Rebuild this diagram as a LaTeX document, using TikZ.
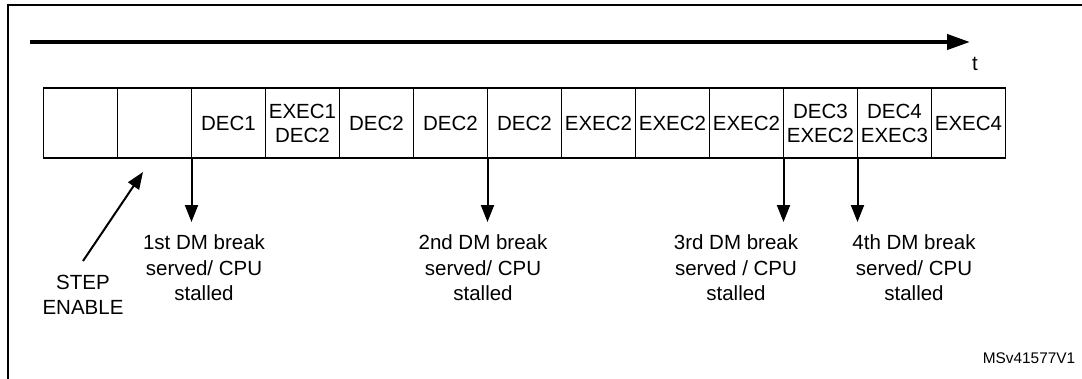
\documentclass[tikz,border=0pt]{standalone}
\usepackage{fontspec}
\setmainfont{Liberation Sans}
\usetikzlibrary{arrows.meta}
\begin{document}
\begin{tikzpicture}[x=1pt,y=-1pt,
  cell/.style={draw,line width=1.2pt,minimum width=74pt,minimum height=70pt,inner sep=0pt,outer sep=0pt,align=center,font=\fontsize{20.5}{24}\selectfont},
  lbl/.style={align=center,inner sep=0pt,font=\fontsize{20.5}{25.5}\selectfont},
  brk/.style={line width=2pt,-{Triangle[length=17pt,width=13pt]}},
  frame/.style={line width=2pt}]
\useasboundingbox (0,0) rectangle (1082,378);
% frame
\coordinate (fb) at (8,380);
\coordinate (fc) at (8,5);
\coordinate (fr) at (1084,5);
\draw[frame] (fb) -- (fc) -- (fr);
% time axis
\coordinate (t0) at (30,42);
\coordinate (t1) at (970,42);
\draw[line width=4pt,-{Triangle[length=23pt,width=15pt]}] (t0) -- (t1);
\node[lbl] (t) at (975,64) {t};
% cells
\node[cell] (c1) at (80.5,123) {};
\node[cell] (c2) at (154.5,123) {};
\node[cell] (c3) at (228.5,123) {DEC1};
\node[cell] (c4) at (302.5,123) {EXEC1\\DEC2};
\node[cell] (c5) at (376.5,123) {DEC2};
\node[cell] (c6) at (450.5,123) {DEC2};
\node[cell] (c7) at (524.5,123) {DEC2};
\node[cell] (c8) at (598.5,123) {EXEC2};
\node[cell] (c9) at (672.5,123) {EXEC2};
\node[cell] (c10) at (746.5,123) {EXEC2};
\node[cell] (c11) at (820.5,123) {DEC3\\EXEC2};
\node[cell] (c12) at (894.5,123) {DEC4\\EXEC3};
\node[cell] (c13) at (968.5,123) {EXEC4};
% break arrows
\coordinate (e1) at (191.5,222);
\coordinate (e2) at (487.5,222);
\coordinate (e3) at (783.5,222);
\coordinate (e4) at (857.5,222);
\draw[brk] (c2.south east) -- (e1);
\draw[brk] (c6.south east) -- (e2);
\draw[brk] (c10.south east) -- (e3);
\draw[brk] (c11.south east) -- (e4);
% labels
\node[lbl] (l1) at (204,268) {1st DM break\\served/ CPU\\stalled};
\node[lbl] (l2) at (483,268) {2nd DM break\\served/ CPU\\stalled};
\node[lbl] (l3) at (736,268) {3rd DM break\\served / CPU\\stalled};
\node[lbl] (l4) at (914,268) {4th DM break\\served/ CPU\\stalled};
% step enable
\node[lbl] (se) at (83,295) {STEP\\ENABLE};
\coordinate (sa) at (83,261);
\coordinate (sb) at (143,172);
\draw[brk] (sa) -- (sb);
% id
\node[inner sep=0pt,font=\fontsize{15.4}{18}\selectfont] (id) at (1029,358) {MSv41577V1};
\end{tikzpicture}
\end{document}
